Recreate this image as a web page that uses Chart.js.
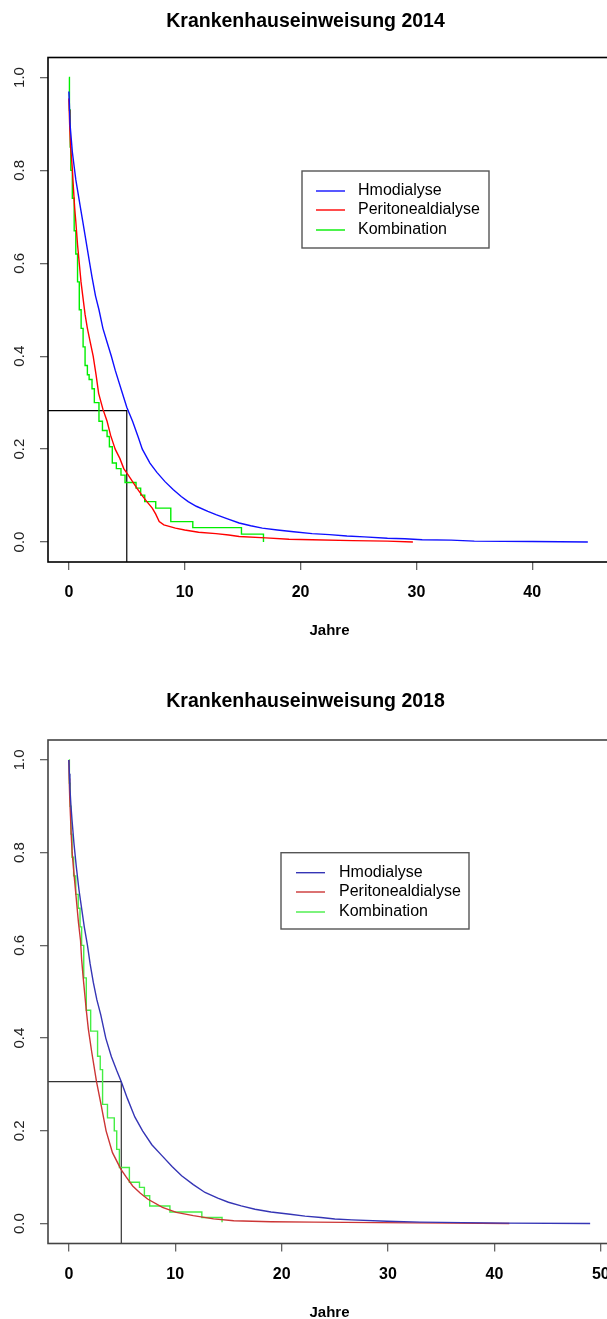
<!DOCTYPE html>
<html>
<head>
<meta charset="utf-8">
<script src="https://cdn.jsdelivr.net/npm/chart.js@4.4.1/dist/chart.umd.min.js"></script>
<style>
  html, body { margin: 0; padding: 0; background: #fff; width: 607px; height: 1319px; overflow: hidden; }
  .plot { position: absolute; left: 0; width: 660px; height: 660px; }
</style>
</head>
<body>
<div class="plot" style="top:0px"><canvas id="chart2014" width="660" height="660"></canvas></div>
<div class="plot" style="top:680px"><canvas id="chart2018" width="660" height="660"></canvas></div>
<script>
// Kaplan-Meier Kurven (Zeit in Jahren, Anteil ohne Einweisung)
const seriesNames = ['Hmodialyse', 'Peritonealdialyse', 'Kombination'];

// --- 2014 ---
const haemoTime2014 = [0, 0.05, 0.1, 0.2, 0.3, 0.45, 0.6, 0.8, 1.0, 1.2, 1.4, 1.6, 1.8, 2.0, 2.3, 2.6, 2.94, 3.3, 3.67, 4.0, 4.5, 5.0, 5.5, 6.0, 6.34, 7.0, 7.6, 8.3, 9.0, 9.7, 10.3, 11.0, 12.0, 12.7, 13.7, 14.7, 15.7, 16.7, 18.0, 19.4, 21.0, 22.5, 24.0, 25.5, 27.5, 29.0, 30.5, 33.0, 35.0, 40.0, 44.8];
const haemoSurv2014 = [0.97, 0.94, 0.9, 0.87, 0.84, 0.81, 0.78, 0.75, 0.72, 0.69, 0.66, 0.63, 0.6, 0.57, 0.53, 0.5, 0.46, 0.43, 0.4, 0.37, 0.33, 0.29, 0.26, 0.225, 0.2, 0.17, 0.15, 0.13, 0.113, 0.098, 0.087, 0.077, 0.066, 0.059, 0.05, 0.041, 0.035, 0.03, 0.026, 0.022, 0.018, 0.016, 0.013, 0.011, 0.008, 0.007, 0.005, 0.004, 0.002, 0.001, 0.0];
const peritTime2014 = [0, 0.03, 0.08, 0.15, 0.25, 0.31, 0.4, 0.5, 0.6, 0.75, 0.9, 1.05, 1.2, 1.4, 1.6, 1.85, 2.1, 2.35, 2.57, 2.94, 3.3, 3.6, 4.0, 4.4, 4.74, 5.1, 5.5, 5.9, 6.3, 6.7, 7.2, 7.5, 7.8, 8.2, 9.2, 10.0, 11.2, 12.7, 13.8, 14.7, 17.0, 19.0, 21.0, 24.5, 27.5, 29.7];
const peritSurv2014 = [0.955, 0.93, 0.89, 0.85, 0.82, 0.8, 0.76, 0.72, 0.69, 0.64, 0.6, 0.56, 0.53, 0.49, 0.46, 0.43, 0.4, 0.36, 0.32, 0.286, 0.26, 0.23, 0.2, 0.18, 0.158, 0.145, 0.13, 0.115, 0.101, 0.088, 0.073, 0.06, 0.044, 0.037, 0.03, 0.026, 0.021, 0.018, 0.015, 0.012, 0.009, 0.006, 0.005, 0.003, 0.002, 0.0];
const kombiTime2014 = [0, 0.05, 0.12, 0.17, 0.3, 0.46, 0.6, 0.75, 0.9, 1.06, 1.23, 1.4, 1.6, 1.75, 2.0, 2.2, 2.6, 2.9, 3.3, 3.5, 3.75, 4.1, 4.5, 4.85, 5.8, 6.2, 6.55, 7.5, 8.8, 10.7, 14.9, 16.8];
const kombiSurv2014 = [1.0, 0.93, 0.85, 0.8, 0.74, 0.67, 0.62, 0.56, 0.5, 0.46, 0.42, 0.38, 0.36, 0.35, 0.33, 0.3, 0.26, 0.24, 0.227, 0.205, 0.17, 0.158, 0.144, 0.128, 0.116, 0.101, 0.087, 0.073, 0.044, 0.031, 0.017, 0.0];
// Hilfslinie (Markierung bei 5 Jahren)
const refTime2014 = 5;
const refSurv2014 = 0.283;
const xTicks2014 = [0, 10, 20, 30, 40];

// --- 2018 ---
const haemoTime2018 = [0, 0.05, 0.1, 0.2, 0.3, 0.48, 0.7, 0.95, 1.2, 1.45, 1.75, 2.0, 2.3, 2.63, 3.0, 3.47, 4.0, 4.5, 4.93, 5.5, 6.2, 6.93, 7.8, 8.77, 9.7, 10.6, 11.7, 12.8, 14.0, 15.0, 16.2, 17.5, 19.0, 20.8, 22.2, 23.7, 25.0, 26.6, 29.9, 33.0, 37.0, 41.0, 49.0];
const haemoSurv2018 = [1.0, 0.97, 0.94, 0.9, 0.87, 0.82, 0.77, 0.72, 0.68, 0.64, 0.6, 0.56, 0.52, 0.483, 0.45, 0.4, 0.36, 0.33, 0.306, 0.27, 0.23, 0.2, 0.17, 0.146, 0.123, 0.103, 0.084, 0.067, 0.055, 0.046, 0.038, 0.031, 0.025, 0.02, 0.016, 0.013, 0.01, 0.008, 0.005, 0.003, 0.002, 0.001, 0.0];
const peritTime2018 = [0, 0.03, 0.08, 0.15, 0.22, 0.31, 0.5, 0.7, 0.9, 1.1, 1.2, 1.35, 1.64, 1.83, 2.15, 2.6, 3.0, 3.5, 4.1, 4.9, 5.4, 6.0, 6.7, 7.4, 8.8, 10.1, 11.7, 13.6, 15.5, 19.0, 23.0, 29.0, 36.0, 41.4];
const peritSurv2018 = [1.0, 0.96, 0.92, 0.88, 0.84, 0.8, 0.75, 0.7, 0.65, 0.61, 0.57, 0.53, 0.46, 0.42, 0.37, 0.306, 0.26, 0.2, 0.153, 0.117, 0.1, 0.081, 0.066, 0.053, 0.035, 0.024, 0.017, 0.01, 0.006, 0.004, 0.003, 0.002, 0.001, 0.0];
const kombiTime2018 = [0, 0.05, 0.12, 0.2, 0.3, 0.45, 0.65, 0.88, 1.05, 1.2, 1.4, 1.64, 2.05, 2.7, 2.95, 3.17, 3.63, 4.27, 4.5, 4.75, 5.69, 6.64, 7.1, 7.6, 9.5, 12.5, 14.4];
const kombiSurv2018 = [1.0, 0.95, 0.9, 0.84, 0.79, 0.75, 0.71, 0.68, 0.64, 0.6, 0.53, 0.46, 0.415, 0.361, 0.332, 0.257, 0.228, 0.2, 0.16, 0.121, 0.089, 0.078, 0.06, 0.038, 0.025, 0.013, 0.003];
const refTime2018 = 4.93;
const refSurv2018 = 0.306;
const xTicks2018 = [0, 10, 20, 30, 40, 50];

const yTicks = [0, 0.2, 0.4, 0.6, 0.8, 1.0];
const yTickLabels = ['0.0', '0.2', '0.4', '0.6', '0.8', '1.0'];

Chart.defaults.font.family = '"Liberation Sans", Arial, sans-serif';
Chart.defaults.color = '#000';

// Zeit- und Wertarray zu {x, y} Punkten zusammenfuehren
function toPoints(times, surv) {
    return times.map((t, i) => ({ x: t, y: surv[i] }));
}

// Rahmen wie bei R, gedrehte Y-Beschriftung und Legende im Plot
const rFramePlugin = {
    id: 'rFrame',
    afterDraw(chart, args, opts) {
        const { ctx, chartArea: a } = chart;
        const yScale = chart.scales.y;
        ctx.save();
        ctx.strokeStyle = opts.boxColor;
        ctx.lineWidth = 1.6;
        ctx.strokeRect(a.left, a.top, a.right - a.left, a.bottom - a.top);

        // Y-Achse: Beschriftung um 90 Grad gedreht
        ctx.fillStyle = '#222';
        ctx.font = '15px "Liberation Sans", Arial, sans-serif';
        ctx.textAlign = 'center';
        ctx.textBaseline = 'middle';
        yTicks.forEach((v, i) => {
            const py = yScale.getPixelForValue(v);
            ctx.save();
            ctx.translate(20, py);
            ctx.rotate(-Math.PI / 2);
            ctx.fillText(yTickLabels[i], 0, 0);
            ctx.restore();
        });

        // Legende
        const lg = opts.legend;
        ctx.fillStyle = '#fff';
        ctx.fillRect(lg.left, lg.top, lg.width, lg.height);
        ctx.strokeStyle = '#555';
        ctx.lineWidth = 1.4;
        ctx.strokeRect(lg.left, lg.top, lg.width, lg.height);
        ctx.font = '16px "Liberation Sans", Arial, sans-serif';
        ctx.textAlign = 'left';
        const items = chart.data.datasets.filter(d => !d.isRef);
        items.forEach((d, i) => {
            const ry = lg.top + lg.rows[i];
            ctx.strokeStyle = d.borderColor;
            ctx.lineWidth = 1.4;
            ctx.beginPath();
            ctx.moveTo(lg.left + lg.lineStart, ry);
            ctx.lineTo(lg.left + lg.lineEnd, ry);
            ctx.stroke();
            ctx.fillStyle = '#000';
            ctx.fillText(d.label, lg.left + lg.textStart, ry);
        });
        ctx.restore();
    }
};

function makeChart(canvasId, cfg) {
    const xMin = -0.04 * cfg.xRange;
    const xMax = cfg.xRange * 1.04;
    const yMin = -0.043;
    const yMax = 1.043;

    const datasets = cfg.curves.map(c => ({
        label: c.label,
        data: toPoints(c.times, c.surv),
        borderColor: c.color,
        borderWidth: 1.4,
        pointRadius: 0,
        fill: false,
        stepped: c.stepped ? 'before' : false,
        tension: 0
    }));
    // Hilfslinie: waagrecht vom Rand bis zum Zeitpunkt, dann senkrecht nach unten
    datasets.push({
        label: '',
        isRef: true,
        data: [{ x: xMin, y: cfg.refSurv }, { x: cfg.refTime, y: cfg.refSurv }, { x: cfg.refTime, y: yMin }],
        borderColor: cfg.refColor,
        borderWidth: 1.2,
        pointRadius: 0,
        fill: false
    });

    return new Chart(document.getElementById(canvasId), {
        type: 'line',
        data: { datasets: datasets },
        options: {
            responsive: false,
            animation: false,
            events: [],
            layout: { padding: { top: 0, left: 0, right: 49, bottom: 0 } },
            scales: {
                x: {
                    type: 'linear',
                    min: xMin,
                    max: xMax,
                    afterBuildTicks: s => { s.ticks = cfg.xTicks.map(v => ({ value: v })); },
                    afterFit: s => { s.height = cfg.xHeight; s.paddingLeft = 0; s.paddingRight = 0; },
                    ticks: { autoSkip: false, maxRotation: 0, padding: 13, color: '#000', font: { size: 16, weight: 'bold' } },
                    grid: { drawOnChartArea: false, drawTicks: true, tickLength: 8, color: '#666', lineWidth: 1.3 },
                    border: { display: false },
                    title: { display: true, text: 'Jahre', color: '#000', font: { size: 15, weight: 'bold' }, padding: { top: 0, bottom: cfg.jahrePad } }
                },
                y: {
                    type: 'linear',
                    min: yMin,
                    max: yMax,
                    afterBuildTicks: s => { s.ticks = yTicks.map(v => ({ value: v })); },
                    afterFit: s => { s.width = 48; },
                    ticks: { display: false },
                    grid: { drawOnChartArea: false, drawTicks: true, tickLength: 8, color: '#666', lineWidth: 1.3 },
                    border: { display: false }
                }
            },
            plugins: {
                legend: { display: false },
                tooltip: { enabled: false },
                title: {
                    display: true,
                    text: cfg.title,
                    color: '#000',
                    font: { size: 19.5, weight: 'bold' },
                    padding: { top: 10, bottom: cfg.titleGap }
                },
                rFrame: { boxColor: cfg.boxColor, legend: cfg.legend }
            }
        },
        plugins: [rFramePlugin]
    });
}

makeChart('chart2014', {
    title: 'Krankenhauseinweisung 2014',
    xRange: 45,
    xTicks: xTicks2014,
    titleGap: 24.1,
    xHeight: 98,
    jahrePad: 20.5,
    refTime: refTime2014,
    refSurv: refSurv2014,
    refColor: '#000',
    boxColor: '#000',
    legend: { left: 302, top: 171, width: 187, height: 77, rows: [20, 39, 59], lineStart: 14, lineEnd: 43, textStart: 56 },
    curves: [
        { label: seriesNames[0], times: haemoTime2014, surv: haemoSurv2014, color: '#1010ff', stepped: false },
        { label: seriesNames[1], times: peritTime2014, surv: peritSurv2014, color: '#ff0000', stepped: false },
        { label: seriesNames[2], times: kombiTime2014, surv: kombiSurv2014, color: '#00ee00', stepped: true }
    ]
});

makeChart('chart2018', {
    title: 'Krankenhauseinweisung 2018',
    xRange: 49,
    xTicks: xTicks2018,
    titleGap: 26.6,
    xHeight: 96.5,
    jahrePad: 18,
    refTime: refTime2018,
    refSurv: refSurv2018,
    refColor: '#333',
    boxColor: '#444',
    legend: { left: 281, top: 172.7, width: 188, height: 76.3, rows: [20, 39.3, 59.3], lineStart: 15, lineEnd: 44, textStart: 58 },
    curves: [
        { label: seriesNames[0], times: haemoTime2018, surv: haemoSurv2018, color: '#3535b5', stepped: false },
        { label: seriesNames[1], times: peritTime2018, surv: peritSurv2018, color: '#cc3535', stepped: false },
        { label: seriesNames[2], times: kombiTime2018, surv: kombiSurv2018, color: '#45ee45', stepped: true }
    ]
});
</script>
</body>
</html>
